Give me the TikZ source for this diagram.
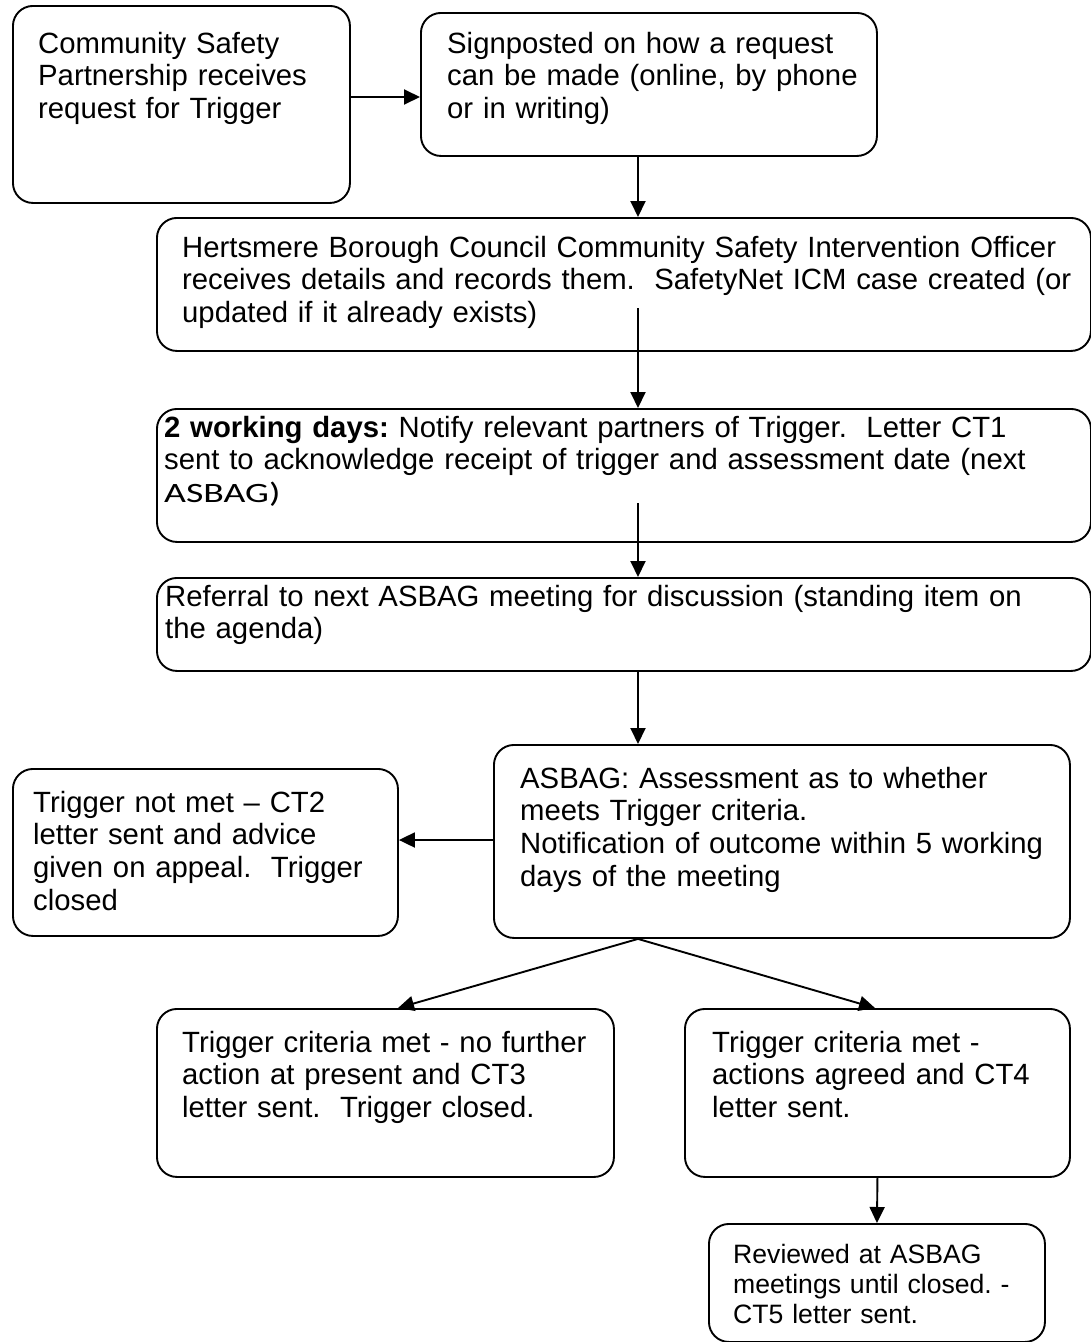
\documentclass[tikz,border=0pt]{standalone}
\usepackage{fontspec}
\setmainfont{Liberation Sans}
\newfontfamily\calibrifont{Carlito}
\usetikzlibrary{arrows.meta}
\frenchspacing

\begin{document}
\begin{tikzpicture}[
				x=1pt, y=-1pt,
				flowbox/.style={draw, line width=1.9pt, rounded corners=20pt, anchor=north west, inner sep=0pt},
				flowtext/.style={anchor=base west, inner sep=0pt, align=left, font=\fontsize{29.3}{32.8}\selectfont},
				smalltext/.style={flowtext, font=\fontsize{26.6}{30.2}\selectfont},
				flowarrow/.style={-{Triangle[length=16pt,width=15pt]}, line width=1.9pt}]
				
				\useasboundingbox (0,0) rectangle (1091,1342);
				
				% the boxes
				\node[flowbox, minimum width=337, minimum height=197] (request) at (12,5) {};
				\node[flowbox, minimum width=456, minimum height=143] (signpost) at (420,12) {};
				\node[flowbox, minimum width=934, minimum height=133] (officer) at (156,217) {};
				\node[flowbox, minimum width=934, minimum height=133] (partners) at (156,408) {};
				\node[flowbox, minimum width=934, minimum height=93] (referral) at (156,577) {};
				\node[flowbox, minimum width=576, minimum height=193] (asbag) at (493,744) {};
				\node[flowbox, minimum width=385, minimum height=167] (notmet) at (12,768) {};
				\node[flowbox, minimum width=457, minimum height=168] (nofurther) at (156,1008) {};
				\node[flowbox, minimum width=385, minimum height=168] (agreed) at (684,1008) {};
				\node[flowbox, minimum width=336, minimum height=118] (reviewed) at (708,1223) {};
				
				% the texts
				\node[flowtext, text width=300] (request-t) at ([shift={(26,48)}]request.north west)
				{Community Safety\\ Partnership receives\\ request for Trigger};
				\node[flowtext, text width=420] (signpost-t) at ([shift={(27,41)}]signpost.north west)
				{Signposted on how a request\\ can be made (online, by phone\\ or in writing)};
				\node[flowtext, text width=910] (officer-t) at ([shift={(26,40)}]officer.north west)
				{Hertsmere Borough Council Community Safety Intervention Officer\\ receives details and records them.~ SafetyNet ICM case created (or\\ updated if it already exists)};
				\node[flowtext, text width=920] (partners-t) at ([shift={(8,29)}]partners.north west)
				{\textbf{2 working days:} Notify relevant partners of Trigger.~ Letter CT1\\ sent to acknowledge receipt of trigger and assessment date (next\\ \scalebox{1.35}[1]{\calibrifont\fontsize{28}{32}\selectfont ASBAG)}};
				\node[flowtext, text width=920] (referral-t) at ([shift={(9,29)}]referral.north west)
				{Referral to next ASBAG meeting for discussion (standing item on\\ the agenda)};
				\node[flowtext, text width=540] (asbag-t) at ([shift={(27,44)}]asbag.north west)
				{ASBAG: Assessment as to whether\\ meets Trigger criteria.\\ Notification of outcome within 5 working\\ days of the meeting};
				\node[flowtext, text width=360] (notmet-t) at ([shift={(21,44)}]notmet.north west)
				{Trigger not met -- CT2\\ letter sent and advice\\ given on appeal.~ Trigger\\ closed};
				\node[flowtext, text width=420] (nofurther-t) at ([shift={(26,44)}]nofurther.north west)
				{Trigger criteria met - no further\\ action at present and CT3\\ letter sent.~ Trigger closed.};
				\node[flowtext, text width=350] (agreed-t) at ([shift={(28,44)}]agreed.north west)
				{Trigger criteria met -\\ actions agreed and CT4\\ letter sent.};
				\node[smalltext, text width=300] (reviewed-t) at ([shift={(25,40)}]reviewed.north west)
				{Reviewed at ASBAG\\ meetings until closed. -\\ CT5 letter sent.};
				
				% the arrows
				\coordinate (spine) at (638,0);
				\coordinate (officer-out) at (638,308);
				\coordinate (partners-out) at (638,503);
				\draw[flowarrow] ([yshift=-92]request.north east) -- ([yshift=-85]signpost.north west);
				\draw[flowarrow] (signpost.south -| spine) -- (officer.north -| spine);
				\draw[flowarrow] (officer-out) -- (partners.north -| spine);
				\draw[flowarrow] (partners-out) -- (referral.north -| spine);
				\draw[flowarrow] (referral.south -| spine) -- (asbag.north -| spine);
				\draw[flowarrow] ([yshift=-96]asbag.north west) -- ([yshift=-72]notmet.north east);
				\draw[flowarrow] (asbag.south -| spine) -- ([xshift=242]nofurther.north west);
				\draw[flowarrow] (asbag.south -| spine) -- ([xshift=191]agreed.north west);
				\draw[flowarrow] (agreed.south) -- (reviewed.north);
			\end{tikzpicture}
\end{document}
